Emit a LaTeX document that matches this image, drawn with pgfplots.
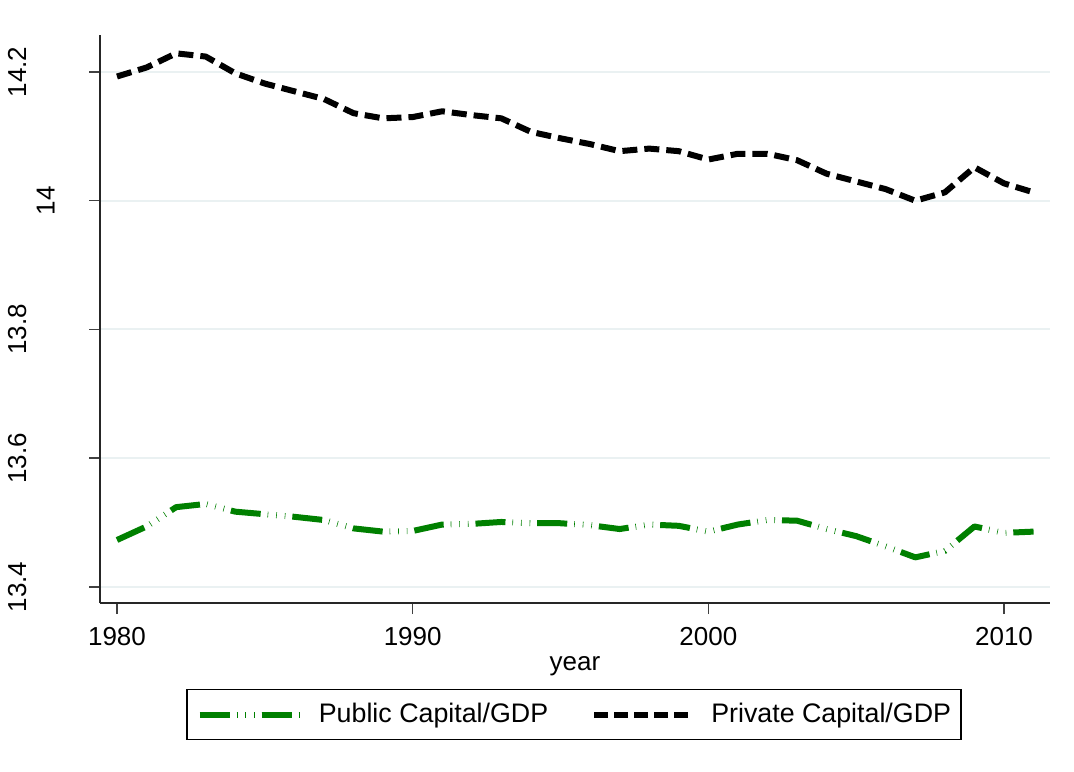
\documentclass[border=0pt]{standalone}
\usepackage{pgfplots}
\pgfplotsset{compat=1.18}
\usepackage{fontspec}
\setmainfont{Liberation Sans}
\definecolor{gridc}{HTML}{EAF1F2}
\definecolor{pubgreen}{HTML}{008000}
\pgfplotsset{
  publeg/.style={legend image code/.code={\draw[##1] (0pt,0pt) -- (45pt,0pt); \path (0pt,0pt) -- (51pt,0pt);}},
  privleg/.style={legend image code/.code={\draw[##1, dash pattern=on 7pt off 3pt] (0pt,0pt) -- (50pt,0pt);}},
}
\begin{document}
\begin{tikzpicture}[font=\fontsize{13}{15.6}\selectfont]
\begin{axis}[
  at={(0pt,0pt)}, anchor=south west,
  scale only axis, width=475pt, height=284pt,
  xmin=1979.425, xmax=2011.556,
  ymin=13.3751, ymax=14.2575,
  axis lines*=left,
  axis line style={line width=0.75pt, color=black!85},
  tick style={line width=0.75pt, color=black!75},
  tick align=outside, major tick length=5.5pt,
  xtick={1980,1990,2000,2010},
  xticklabels={1980,1990,2000,2010},
  xticklabel style={anchor=north, inner sep=0pt, yshift=-6.5pt},
  ytick={13.4,13.6,13.8,14,14.2},
  yticklabels={\raisebox{31.2pt}{13.4},\raisebox{31.2pt}{13.6},\raisebox{31.2pt}{13.8},\raisebox{17pt}{14},\raisebox{31.2pt}{14.2}},
  yticklabel style={rotate=90, anchor=south, inner sep=0pt},
  ymajorgrids, major grid style={color=gridc, line width=1pt},
  xlabel={year},
  xlabel style={at={(axis description cs:0.5,0)}, anchor=base, inner sep=0pt, yshift=-33.5pt},
  legend columns=2,
  legend cell align=left,
  legend style={at={(axis description cs:0.4989,-0.1963)}, anchor=center,
    draw=black, line width=0.7pt, inner xsep=5pt, inner ysep=7pt,
    font=\fontsize{13.4}{16}\selectfont,
    nodes={inner sep=0pt},
    /tikz/every odd column/.style={column sep=7pt},
    /tikz/every even column/.style={column sep=21.5pt}},
]
\addplot[pubgreen, line width=3pt, line join=round,
  dash pattern=on 15pt off 3.5pt on 0.3pt off 4pt on 0.3pt off 4pt on 0.3pt off 3.5pt,
  publeg]
coordinates {
(1980,13.473) (1981,13.494) (1982,13.524) (1983,13.529) (1984,13.517)
(1985,13.513) (1986,13.509) (1987,13.504) (1988,13.491) (1989,13.486)
(1990,13.487) (1991,13.497) (1992,13.498) (1993,13.501) (1994,13.499)
(1995,13.499) (1996,13.496) (1997,13.490) (1998,13.497) (1999,13.495)
(2000,13.486) (2001,13.497) (2002,13.504) (2003,13.503) (2004,13.490)
(2005,13.479) (2006,13.463) (2007,13.446) (2008,13.456) (2009,13.494)
(2010,13.484) (2011,13.486)
};
\addlegendentry{Public Capital/GDP}
\addplot[black, line width=3pt, line join=round,
  dash pattern=on 7.5pt off 3.5pt,
  privleg]
coordinates {
(1980,14.193) (1981,14.207) (1982,14.229) (1983,14.224) (1984,14.198)
(1985,14.182) (1986,14.170) (1987,14.158) (1988,14.136) (1989,14.128)
(1990,14.130) (1991,14.139) (1992,14.133) (1993,14.128) (1994,14.107)
(1995,14.097) (1996,14.088) (1997,14.077) (1998,14.081) (1999,14.077)
(2000,14.064) (2001,14.073) (2002,14.073) (2003,14.063) (2004,14.042)
(2005,14.030) (2006,14.018) (2007,14.000) (2008,14.013) (2009,14.052)
(2010,14.027) (2011,14.013)
};
\addlegendentry{Private Capital/GDP}
\end{axis}
\pgfresetboundingbox
\useasboundingbox (-50pt,-84pt) rectangle (487pt,301.5pt);
\end{tikzpicture}
\end{document}
